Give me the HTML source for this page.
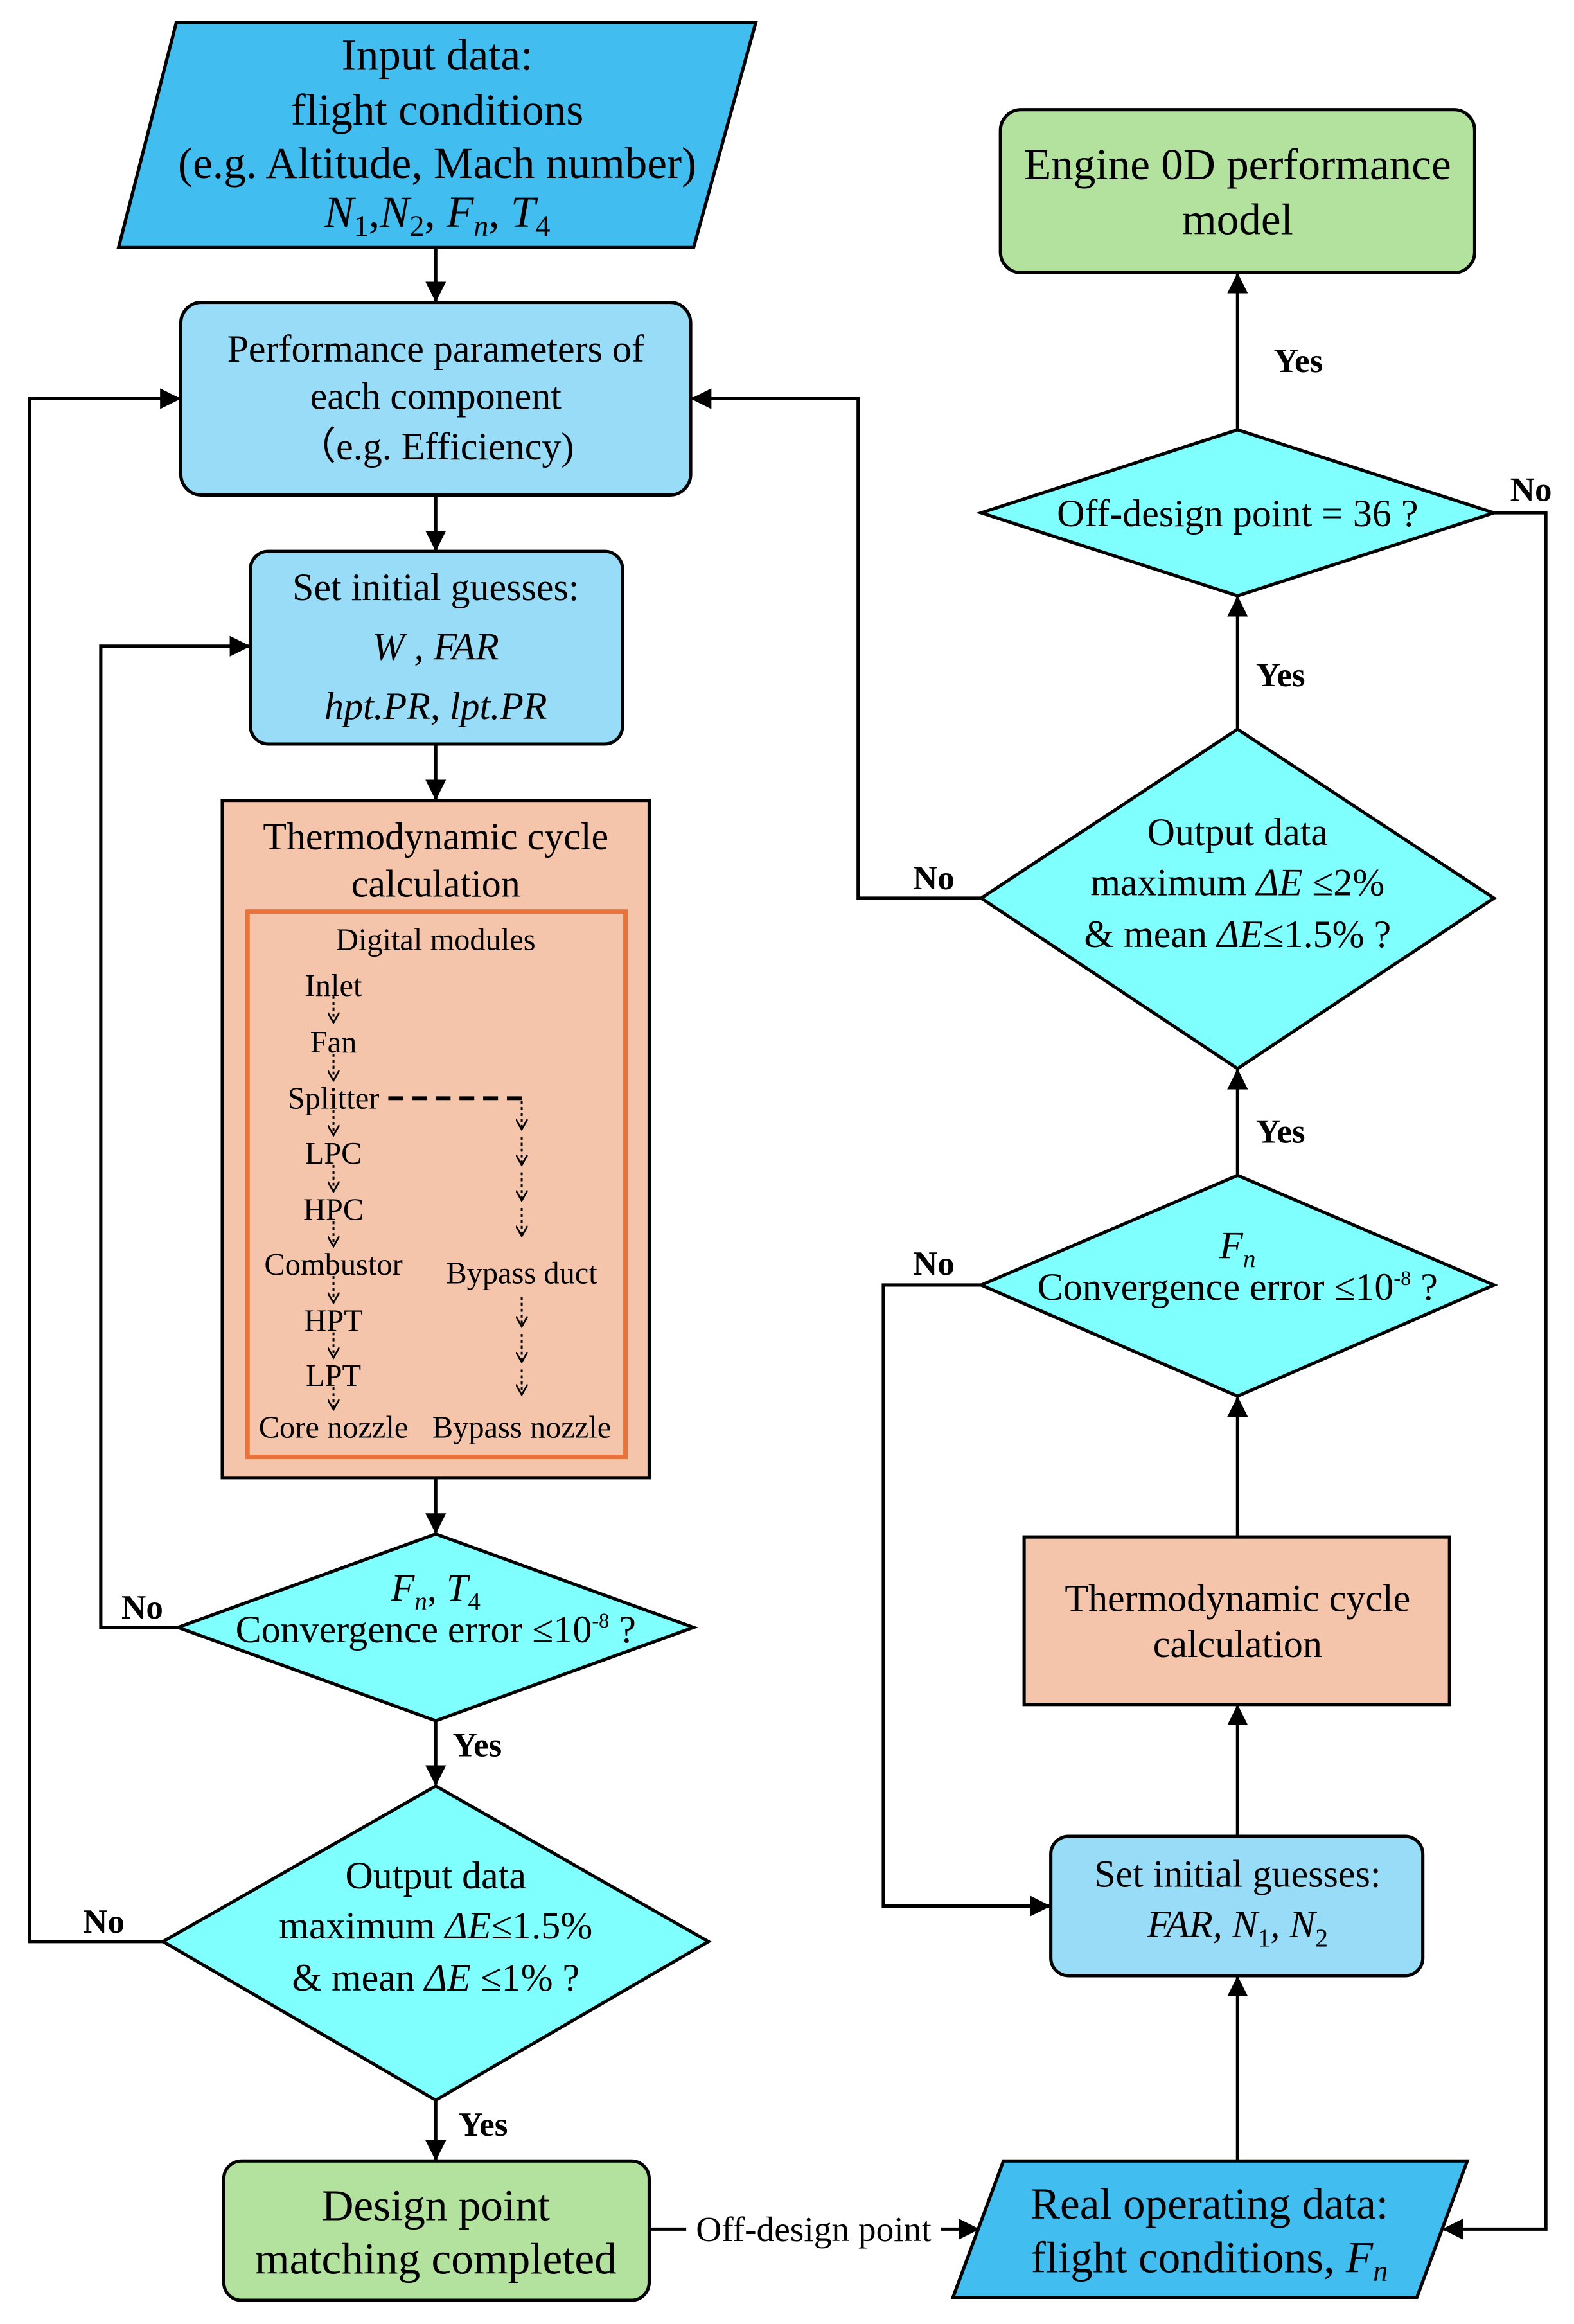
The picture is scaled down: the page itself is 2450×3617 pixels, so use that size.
<!DOCTYPE html>
<html><head><meta charset="utf-8"><style>
html,body{margin:0;padding:0;background:#fff}
svg{display:block}
text{font-family:"Liberation Serif","Times New Roman",serif;fill:#000}
.b{font-weight:bold}
</style></head><body>
<svg width="2450" height="3617" viewBox="0 0 1062 1568" preserveAspectRatio="none" xmlns="http://www.w3.org/2000/svg">
<defs>
<marker id="a" markerUnits="userSpaceOnUse" markerWidth="14" markerHeight="14" refX="13" refY="7" orient="auto"><path d="M0,0 L14,7 L0,14 z" fill="#000"/></marker>
<marker id="s" markerUnits="userSpaceOnUse" markerWidth="8" markerHeight="8" refX="7" refY="4" orient="auto"><path d="M0,0 L7,4 L0,8" fill="none" stroke="#000" stroke-width="1.2"/></marker>
</defs>
<g stroke="#000" stroke-width="2.2">
<polygon points="119,15 510,15 468,167 80,167" fill="#41bdf0"/>
<rect x="122" y="204" width="344" height="130" rx="14" fill="#99dcf7"/>
<rect x="169" y="372" width="251" height="130" rx="12" fill="#99dcf7"/>
<rect x="150" y="540" width="288" height="457" fill="#f4c5aa"/>
<rect x="167" y="615" width="255" height="368" fill="none" stroke="#e8743b" stroke-width="3"/>
<polygon points="294,1035 468,1098 294,1161 120,1098" fill="#80ffff"/>
<polygon points="294,1205 478,1310 294,1417 110,1310" fill="#80ffff"/>
<rect x="151" y="1458" width="287" height="94" rx="12" fill="#b3e29f"/>
<polygon points="677,1458 990,1458 956,1550 643,1550" fill="#41bdf0"/>
<rect x="709" y="1239" width="251" height="94" rx="12" fill="#99dcf7"/>
<rect x="691" y="1037" width="287" height="113" fill="#f4c5aa"/>
<polygon points="835,793 1008,867 835,942 662,867" fill="#80ffff"/>
<polygon points="835,492 1008,606 835,721 662,606" fill="#80ffff"/>
<polygon points="835,290 1008,346 835,402 662,346" fill="#80ffff"/>
<rect x="675" y="74" width="320" height="110" rx="14" fill="#b3e29f"/>
<g fill="none">
<line x1="294" y1="167" x2="294" y2="203" marker-end="url(#a)"/>
<line x1="294" y1="334" x2="294" y2="371" marker-end="url(#a)"/>
<line x1="294" y1="502" x2="294" y2="539" marker-end="url(#a)"/>
<line x1="294" y1="997" x2="294" y2="1034" marker-end="url(#a)"/>
<polyline points="120,1098 68,1098 68,436 168,436" marker-end="url(#a)"/>
<line x1="294" y1="1161" x2="294" y2="1204" marker-end="url(#a)"/>
<polyline points="110,1310 20,1310 20,269 121,269" marker-end="url(#a)"/>
<line x1="294" y1="1417" x2="294" y2="1457" marker-end="url(#a)"/>
<line x1="438" y1="1504" x2="660" y2="1504" marker-end="url(#a)"/>
<line x1="835" y1="1458" x2="835" y2="1334" marker-end="url(#a)"/>
<line x1="835" y1="1239" x2="835" y2="1151" marker-end="url(#a)"/>
<line x1="835" y1="1037" x2="835" y2="943" marker-end="url(#a)"/>
<polyline points="662,867 596,867 596,1286 708,1286" marker-end="url(#a)"/>
<line x1="835" y1="793" x2="835" y2="722" marker-end="url(#a)"/>
<polyline points="662,606 579,606 579,269 467,269" marker-end="url(#a)"/>
<line x1="835" y1="492" x2="835" y2="403" marker-end="url(#a)"/>
<polyline points="1008,346 1043,346 1043,1504 974,1504" marker-end="url(#a)"/>
<line x1="835" y1="290" x2="835" y2="185" marker-end="url(#a)"/>
</g>
</g>
<g stroke="#000" stroke-width="1.3" stroke-dasharray="2,2" fill="none">
<line x1="225" y1="672" x2="225" y2="690" marker-end="url(#s)"/>
<line x1="225" y1="711" x2="225" y2="729" marker-end="url(#s)"/>
<line x1="225" y1="749" x2="225" y2="766" marker-end="url(#s)"/>
<line x1="225" y1="786" x2="225" y2="804" marker-end="url(#s)"/>
<line x1="225" y1="824" x2="225" y2="841" marker-end="url(#s)"/>
<line x1="225" y1="861" x2="225" y2="879" marker-end="url(#s)"/>
<line x1="225" y1="899" x2="225" y2="916" marker-end="url(#s)"/>
<line x1="225" y1="936" x2="225" y2="951" marker-end="url(#s)"/>
<line x1="352" y1="743" x2="352" y2="762" marker-end="url(#s)"/>
<line x1="352" y1="767" x2="352" y2="786" marker-end="url(#s)"/>
<line x1="352" y1="791" x2="352" y2="810" marker-end="url(#s)"/>
<line x1="352" y1="815" x2="352" y2="834" marker-end="url(#s)"/>
<line x1="352" y1="875" x2="352" y2="895" marker-end="url(#s)"/>
<line x1="352" y1="900" x2="352" y2="919" marker-end="url(#s)"/>
<line x1="352" y1="924" x2="352" y2="941" marker-end="url(#s)"/>
</g>
<polyline points="262,741 352,741 352,746" fill="none" stroke="#000" stroke-width="2.5" stroke-dasharray="10,6"/>
<rect x="463" y="1490" width="172" height="26" fill="#fff"/>
<g text-anchor="middle">
<g font-size="30">
<text x="295" y="47">Input data:</text>
<text x="295" y="84">flight conditions</text>
<text x="295" y="120">(e.g. Altitude, Mach number)</text>
<text x="295" y="153"><tspan font-style="italic">N</tspan><tspan font-size="20" dy="6">1</tspan><tspan dy="-6">,</tspan><tspan font-style="italic">N</tspan><tspan font-size="20" dy="6">2</tspan><tspan dy="-6">, </tspan><tspan font-style="italic">F</tspan><tspan font-style="italic" font-size="20" dy="6">n</tspan><tspan dy="-6">, </tspan><tspan font-style="italic">T</tspan><tspan font-size="20" dy="6">4</tspan></text>
</g>
<g font-size="26">
<text x="294" y="244">Performance parameters of</text>
<text x="294" y="276">each component</text>
<text x="294" y="310">（e.g. Efficiency)</text>
<text x="294" y="405">Set initial guesses:</text>
<text x="294" y="445" font-style="italic">W , FAR</text>
<text x="294" y="485" font-style="italic">hpt.PR, lpt.PR</text>
<text x="294" y="573">Thermodynamic cycle</text>
<text x="294" y="605">calculation</text>
</g>
<g font-size="21">
<text x="294" y="641">Digital modules</text>
<text x="225" y="672">Inlet</text>
<text x="225" y="710">Fan</text>
<text x="225" y="748">Splitter</text>
<text x="225" y="785">LPC</text>
<text x="225" y="823">HPC</text>
<text x="225" y="860">Combustor</text>
<text x="225" y="898">HPT</text>
<text x="225" y="935">LPT</text>
<text x="225" y="970">Core nozzle</text>
<text x="352" y="866">Bypass duct</text>
<text x="352" y="970">Bypass nozzle</text>
</g>
<g font-size="26">
<text x="294" y="1080"><tspan font-style="italic">F</tspan><tspan font-style="italic" font-size="17" dy="6">n</tspan><tspan dy="-6">, </tspan><tspan font-style="italic">T</tspan><tspan font-size="17" dy="6">4</tspan></text>
<text x="294" y="1108">Convergence error ≤10<tspan font-size="14" dy="-10">-8</tspan><tspan dy="10"> ?</tspan></text>
<text x="294" y="1274">Output data</text>
<text x="294" y="1308">maximum   <tspan font-style="italic">ΔE</tspan>≤1.5%</text>
<text x="294" y="1343">&amp; mean <tspan font-style="italic">ΔE</tspan> ≤1% ?</text>
</g>
<g font-size="30">
<text x="294" y="1498">Design point</text>
<text x="294" y="1534">matching completed</text>
<text x="816" y="1497">Real operating data:</text>
<text x="816" y="1533">flight conditions, <tspan font-style="italic">F</tspan><tspan font-style="italic" font-size="20" dy="6">n</tspan></text>
<text x="835" y="121">Engine 0D performance</text>
<text x="835" y="158">model</text>
</g>
<text x="549" y="1512" font-size="24">Off-design point</text>
<g font-size="26">
<text x="835" y="1273">Set initial guesses:</text>
<text x="835" y="1307" font-style="italic">FAR, N<tspan font-style="normal" font-size="17" dy="6">1</tspan><tspan dy="-6">, N</tspan><tspan font-style="normal" font-size="17" dy="6">2</tspan></text>
<text x="835" y="1087">Thermodynamic cycle</text>
<text x="835" y="1118">calculation</text>
<text x="835" y="849"><tspan font-style="italic">F</tspan><tspan font-style="italic" font-size="17" dy="6">n</tspan></text>
<text x="835" y="877">Convergence error ≤10<tspan font-size="14" dy="-10">-8</tspan><tspan dy="10"> ?</tspan></text>
<text x="835" y="570">Output data</text>
<text x="835" y="604">maximum  <tspan font-style="italic">ΔE</tspan>  ≤2%</text>
<text x="835" y="639">&amp; mean   <tspan font-style="italic">ΔE</tspan>≤1.5% ?</text>
<text x="835" y="355">Off-design point = 36 ?</text>
</g>
<g font-size="23">
<text x="96" y="1092" class="b">No</text>
<text x="70" y="1304" class="b">No</text>
<text x="322" y="1185" class="b">Yes</text>
<text x="326" y="1441" class="b">Yes</text>
<text x="630" y="860" class="b">No</text>
<text x="630" y="600" class="b">No</text>
<text x="864" y="771" class="b">Yes</text>
<text x="864" y="463" class="b">Yes</text>
<text x="876" y="251" class="b">Yes</text>
<text x="1033" y="338" class="b">No</text>
</g>
</g>
</svg>
</body></html>
